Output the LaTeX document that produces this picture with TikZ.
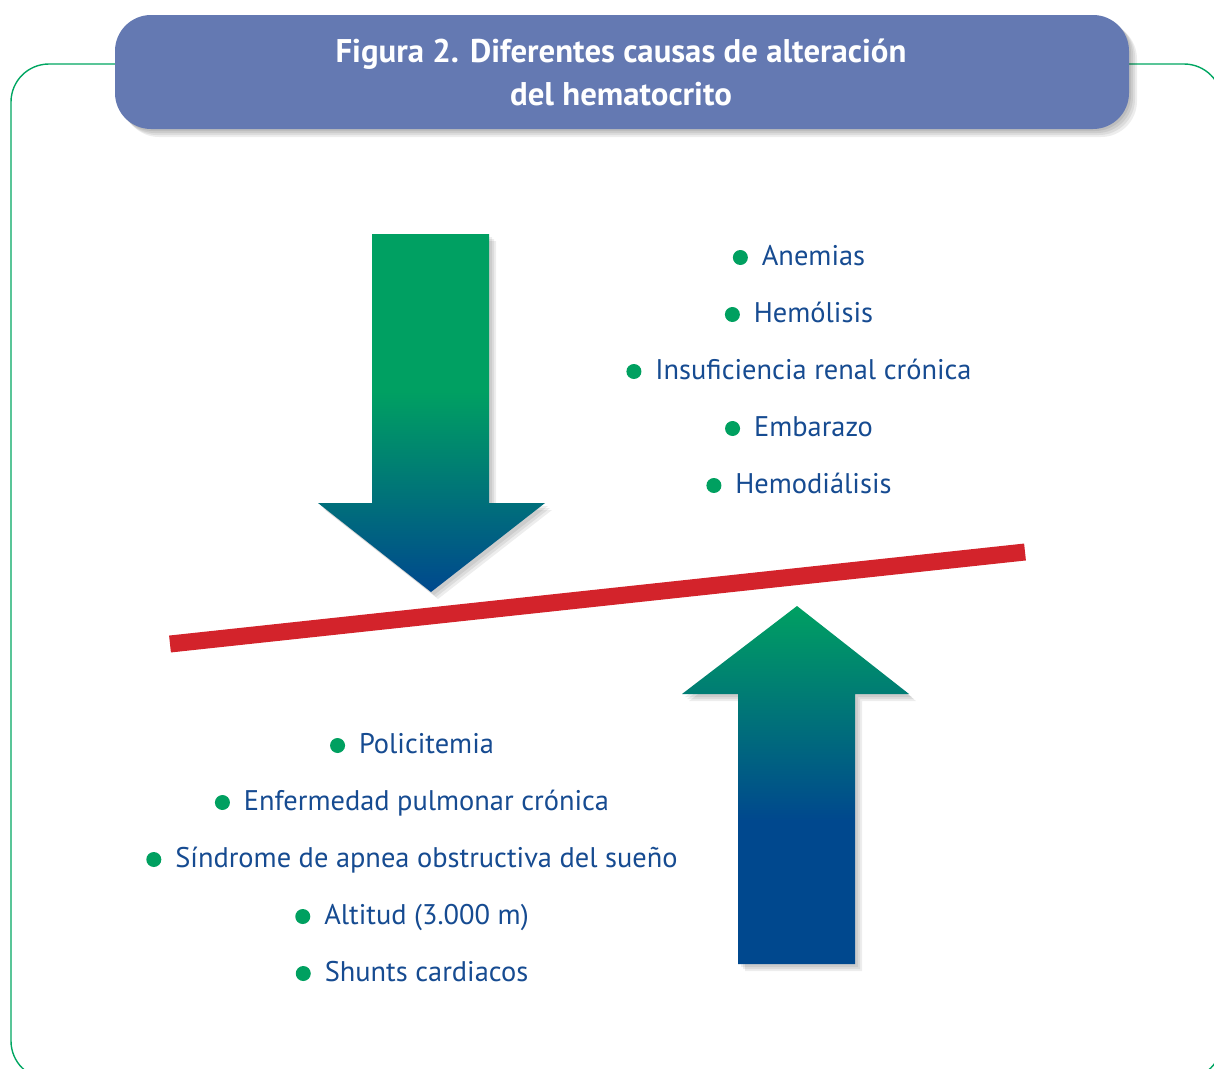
\documentclass[tikz,border=0pt]{standalone}
\usepackage{fontspec}
\setmainfont{PT Sans}
\definecolor{titlebg}{RGB}{100,121,178}
\definecolor{framegreen}{RGB}{0,166,98}
\definecolor{bgreen}{RGB}{0,160,96}
\definecolor{aqgreen}{RGB}{0,160,98}
\definecolor{aqblue}{RGB}{0,72,142}
\definecolor{txtblue}{RGB}{22,75,145}
\definecolor{redbar}{RGB}{211,35,43}
\pgfdeclareverticalshading{downgrad}{100bp}{color(0bp)=(aqblue); color(25bp)=(aqblue); color(53bp)=(aqgreen); color(100bp)=(aqgreen)}
\pgfdeclareverticalshading{upgrad}{100bp}{color(0bp)=(aqblue); color(45bp)=(aqblue); color(75bp)=(aqgreen); color(100bp)=(aqgreen)}
\newcommand\bul{\tikz[baseline={(0pt,-7.5pt)}]\fill[bgreen](0pt,0pt) circle[radius=7.5pt];\hspace{14pt}}
\tikzset{
  frameline/.style={draw=framegreen,line width=1.4pt,rounded corners=38pt},
  titlebox/.style={fill=titlebg,rounded corners=36pt},
  titletext/.style={text=white,font=\bfseries\fontsize{32.8}{40}\selectfont,anchor=base,inner sep=0pt},
  item/.style={text=txtblue,font=\fontsize{28.4}{32}\selectfont,anchor=base,inner sep=0pt},
  shadowfill/.style={fill=black,opacity=0.07},
}
\begin{document}
\begin{tikzpicture}[x=1pt,y=-1pt]
\useasboundingbox (0,0) rectangle (1214,1068);
\fill[white] (0,0) rectangle (1214,1068);
\begin{scope}
\clip (0,0) rectangle (1214,1068);
\draw[frameline] (11,64) rectangle (1222,1079);
\end{scope}
% title box shadow
\foreach \d in {2,4,6,8}{
  \fill[shadowfill,rounded corners=36pt] (115+\d,15+\d) rectangle (1129+\d,129+\d);
}
\fill[titlebox] (115,15) rectangle (1129,129);
\node[titletext] (title1) at (621,62) {Figura 2. Diferentes causas de alteración};
\node[titletext] (title2) at (621,105) {del hematocrito};
% red bar
\draw[redbar,line width=17pt] (170,644) -- (1025,552);
% down arrow
\foreach \d in {3,5,7}{
  \fill[shadowfill,shift={(\d,\d)}] (372,234) -- (489,234) -- (489,503) -- (545,503) -- (431,592) -- (318,503) -- (372,503) -- cycle;
}
\shade[shading=downgrad] (372,234) -- (489,234) -- (489,503) -- (545,503) -- (431,592) -- (318,503) -- (372,503) -- cycle;
% up arrow
\foreach \d in {3,5,7}{
  \fill[shadowfill,shift={(\d,\d)}] (797,606) -- (909,694) -- (855,694) -- (855,964) -- (738,964) -- (738,694) -- (682,694) -- cycle;
}
\shade[shading=upgrad] (797,606) -- (909,694) -- (855,694) -- (855,964) -- (738,964) -- (738,694) -- (682,694) -- cycle;
% top list
\node[item] (a1) at (799,265) {\bul Anemias};
\node[item] (a2) at (799,322) {\bul Hemólisis};
\node[item] (a3) at (799,379) {\bul Insuficiencia renal crónica};
\node[item] (a4) at (799,436) {\bul Embarazo};
\node[item] (a5) at (799,493) {\bul Hemodiálisis};
% bottom list
\node[item] (b1) at (412,753) {\bul Policitemia};
\node[item] (b2) at (412,810) {\bul Enfermedad pulmonar crónica};
\node[item] (b3) at (412,867) {\bul Síndrome de apnea obstructiva del sueño};
\node[item] (b4) at (412,924) {\bul Altitud (3.000 m)};
\node[item] (b5) at (412,981) {\bul Shunts cardiacos};
\end{tikzpicture}
\end{document}
